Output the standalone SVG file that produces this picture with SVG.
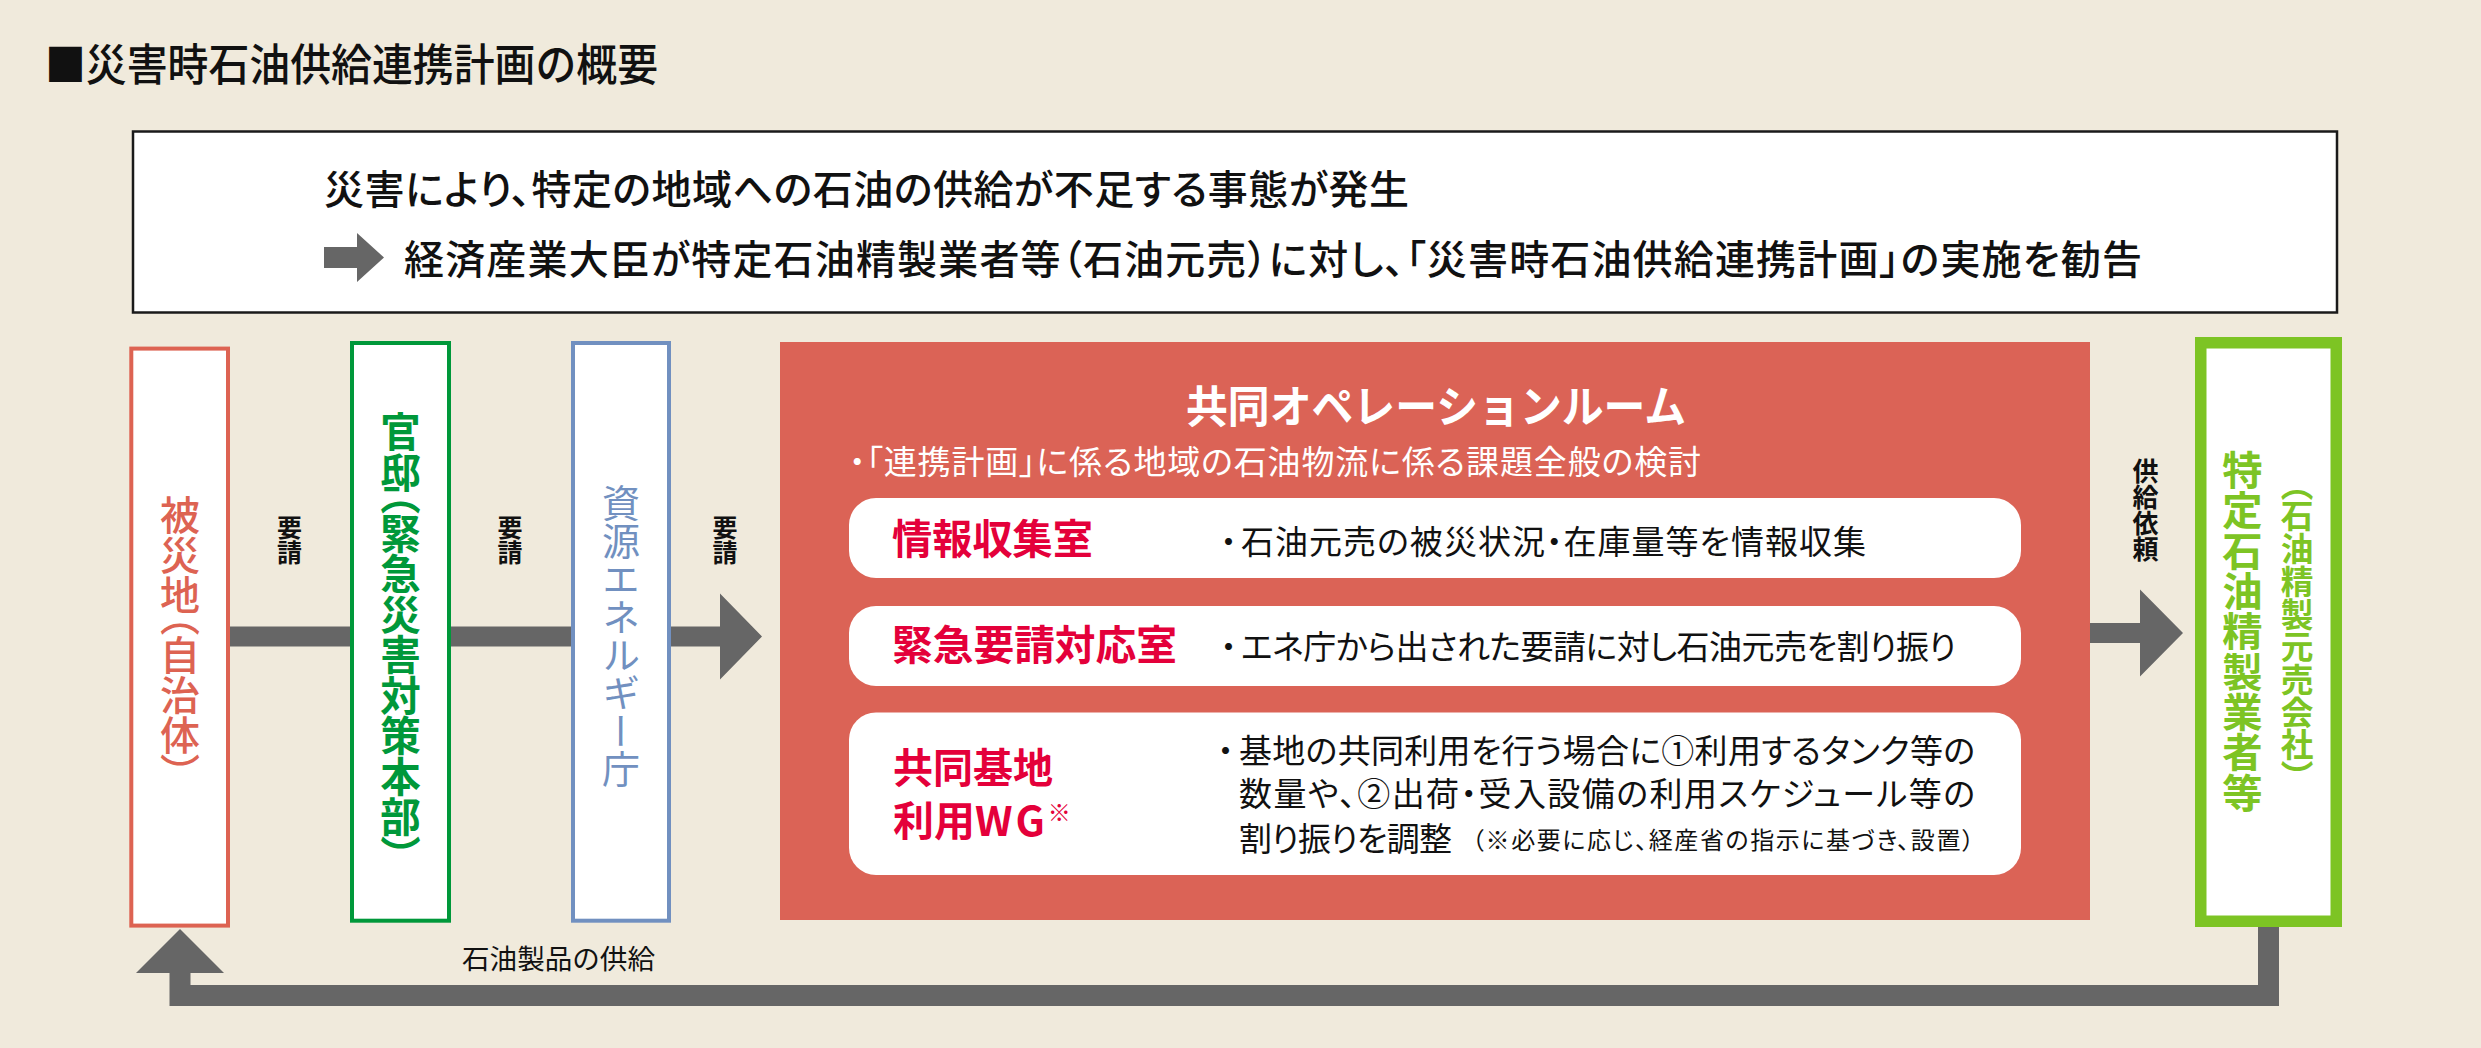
<svg xmlns="http://www.w3.org/2000/svg" width="2481" height="1048" viewBox="0 0 2481 1048">
<style>
text { font-family: "Noto Sans CJK JP", "Noto Sans CJK SC", sans-serif; fill: #111; }
.v { writing-mode: vertical-rl; text-anchor: middle; }
.vp { font-feature-settings: "vpal" 1; }
.pa { font-feature-settings: "palt" 1; }
.lbl { font-size: 25px; font-weight: 700; }
.room { font-size: 41px; font-weight: 700; fill: #E4003A; }
.desc { font-size: 33px; font-feature-settings: "palt" 1; }
.dot { font-size: 33px; }
.row { fill: #ffffff; }
.vbox { fill: #ffffff; stroke-width: 4; }
</style>
<rect x="0" y="0" width="2481" height="1048" fill="#F0EADC"/>
<text x="45" y="81" font-size="44" font-weight="500" textLength="613" lengthAdjust="spacingAndGlyphs">■災害時石油供給連携計画の概要</text>

<g id="notice">
  <rect x="133" y="131.5" width="2204" height="181" fill="#ffffff" stroke="#1a1a1a" stroke-width="2.5"/>
  <text class="pa" x="324" y="204" font-size="40" font-weight="500" textLength="1085" lengthAdjust="spacing">災害により、特定の地域への石油の供給が不足する事態が発生</text>
  <path d="M324 247 H357 V233 L384 257.5 L357 282 V268 H324 Z" fill="#666666"/>
  <text class="pa" x="404" y="274" font-size="40" font-weight="500" textLength="1738" lengthAdjust="spacing">経済産業大臣が特定石油精製業者等（石油元売）に対し、「災害時石油供給連携計画」の実施を勧告</text>
</g>

<g id="connectors" fill="#666666">
  <rect x="229" y="626.5" width="122" height="20"/>
  <rect x="450" y="626.5" width="122" height="20"/>
  <path d="M670 626.5 H720 V593.5 L762 636.5 L720 679.5 V646.5 H670 Z"/>
  <path d="M2090 623 H2140 V589.5 L2183 633 L2140 676.5 V643 H2090 Z"/>
  <path d="M2268.5 926 V995.5 H180 V972" fill="none" stroke="#666666" stroke-width="21"/>
  <polygon points="136,973 180,929 224,973"/>
  <text class="v lbl" x="289.5" y="539.5">要請</text>
  <text class="v lbl" x="510" y="539.5">要請</text>
  <text class="v lbl" x="725" y="539.5">要請</text>
  <text class="v" x="2145.5" y="510.5" font-size="26" font-weight="700">供給依頼</text>
  <text x="462" y="969" font-size="27" textLength="193" lengthAdjust="spacingAndGlyphs">石油製品の供給</text>
</g>

<g id="hisaichi">
  <rect class="vbox" x="131.3" y="348.6" width="96.7" height="577" stroke="#DD6352"/>
  <text class="v vp" x="180" y="634.5" font-size="40" font-weight="500" style="fill:#DD6352">被災地（自治体）</text>
</g>

<g id="kantei">
  <rect class="vbox" x="352" y="343" width="97" height="577.7" stroke="#00983A"/>
  <text class="v vp" x="400.5" y="634.5" font-size="40.5" font-weight="700" style="fill:#00983A">官邸（緊急災害対策本部）</text>
</g>

<g id="enecho">
  <rect class="vbox" x="573" y="343" width="96" height="577.7" stroke="#7190C0"/>
  <text class="v" x="621" y="635.5" font-size="38" font-weight="400" style="fill:#7190C0">資源エネルギー庁</text>
</g>

<g id="operation-room">
  <rect x="780" y="342" width="1310" height="578" fill="#DB6356"/>
  <text x="1186" y="423" font-size="44" font-weight="700" textLength="500" lengthAdjust="spacingAndGlyphs" style="fill:#ffffff">共同オペレーションルーム</text>
  <text class="pa" x="849" y="474" font-size="33" textLength="852" lengthAdjust="spacing" style="fill:#ffffff">・「連携計画」に係る地域の石油物流に係る課題全般の検討</text>

  <g id="room-info">
    <rect class="row" x="849" y="498" width="1172" height="80" rx="27"/>
    <text class="room" x="892" y="554" textLength="201" lengthAdjust="spacingAndGlyphs">情報収集室</text>
    <text class="dot" x="1212" y="554">・</text>
    <text class="desc" x="1241" y="554" textLength="625" lengthAdjust="spacing">石油元売の被災状況・在庫量等を情報収集</text>
  </g>
  <g id="room-emergency">
    <rect class="row" x="849" y="606" width="1172" height="80" rx="27"/>
    <text class="room" x="892" y="660" textLength="285" lengthAdjust="spacingAndGlyphs">緊急要請対応室</text>
    <text class="dot" x="1212" y="659">・</text>
    <text class="desc" x="1241" y="659" textLength="715" lengthAdjust="spacing">エネ庁から出された要請に対し石油元売を割り振り</text>
  </g>
  <g id="room-wg">
    <rect class="row" x="849" y="712.5" width="1172" height="162.5" rx="27"/>
    <text class="room" x="893" y="783" font-size="40" textLength="160" lengthAdjust="spacingAndGlyphs">共同基地</text>
    <text class="room" x="893" y="836" font-size="40">利用<tspan letter-spacing="3">WG</tspan><tspan font-size="23" dy="-15">※</tspan></text>
    <text class="dot" x="1209" y="763">・</text>
    <text class="desc" x="1239" y="763" textLength="736" lengthAdjust="spacing">基地の共同利用を行う場合に①利用するタンク等の</text>
    <text class="desc" x="1239" y="806" textLength="736" lengthAdjust="spacing">数量や、②出荷・受入設備の利用スケジュール等の</text>
    <text class="desc" x="1239" y="851" textLength="213" lengthAdjust="spacing">割り振りを調整</text>
    <text class="pa" x="1472" y="849" font-size="24" textLength="502" lengthAdjust="spacing">（※必要に応じ、経産省の指示に基づき、設置）</text>
  </g>
</g>

<g id="refiners">
  <rect x="2200.75" y="342.75" width="135.5" height="578.5" fill="#ffffff" stroke="#7DC424" stroke-width="11.5"/>
  <text class="v" x="2242.5" y="631" font-size="40.3" font-weight="700" style="fill:#7DC424">特定石油精製業者等</text>
  <text class="v vp" x="2297" y="630.5" font-size="32.7" font-weight="700" style="fill:#7DC424">（石油精製元売会社）</text>
</g>
</svg>
